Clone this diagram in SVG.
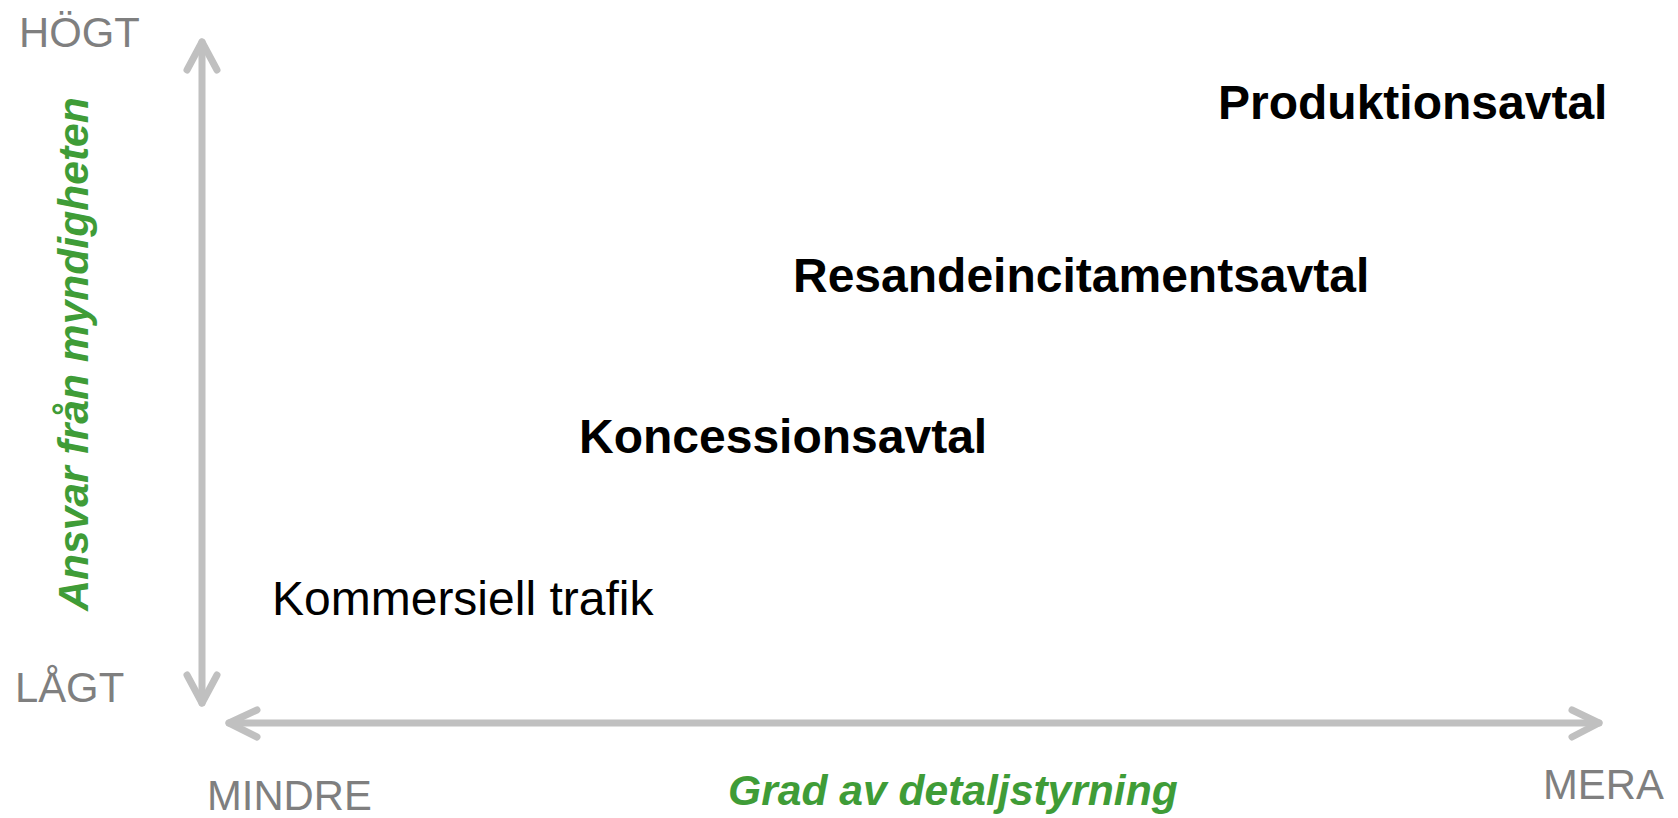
<svg xmlns="http://www.w3.org/2000/svg" width="1678" height="818" viewBox="0 0 1678 818">
  <style>
    .axis { fill: none; stroke: #c0c0c0; stroke-width: 7; stroke-linecap: round; stroke-linejoin: round; }
    .end { font-family: "Liberation Sans", Arial, sans-serif; font-size: 41.8px; fill: #7f7f7f; }
    .title { font-family: "Liberation Sans", Arial, sans-serif; font-size: 42.6px; font-weight: bold; font-style: italic; fill: #3f9c37; }
    .item { font-family: "Liberation Sans", Arial, sans-serif; font-size: 48px; fill: #000000; }
    .bold { font-weight: bold; }
  </style>
  <rect width="1678" height="818" fill="#ffffff"/>
  <g id="connectors">
    <path class="axis" d="M202,42 L202,703"/>
    <path class="axis" d="M187,70 L202,42 L217,70"/>
    <path class="axis" d="M187,675 L202,703 L217,675"/>
    <path class="axis" d="M229,723 L1599,723"/>
    <path class="axis" d="M257,710 L229,723 L257,737"/>
    <path class="axis" d="M1572,710 L1599,723 L1572,737"/>
  </g>
  <g id="axis-labels">
    <text class="end" x="19" y="47">HÖGT</text>
    <text class="end" x="15" y="702">LÅGT</text>
    <text class="end" x="207" y="810">MINDRE</text>
    <text class="end" x="1543" y="799">MERA</text>
    <text class="title" x="728" y="805">Grad av detaljstyrning</text>
    <text class="title" transform="translate(88,354) rotate(-90)" text-anchor="middle" x="0" y="0">Ansvar från myndigheten</text>
  </g>
  <g id="node-produktionsavtal">
    <text class="item bold" x="1218" y="119">Produktionsavtal</text>
  </g>
  <g id="node-resandeincitamentsavtal">
    <text class="item bold" x="793" y="292">Resandeincitamentsavtal</text>
  </g>
  <g id="node-koncessionsavtal">
    <text class="item bold" x="579" y="453">Koncessionsavtal</text>
  </g>
  <g id="node-kommersiell-trafik">
    <text class="item" x="272" y="615">Kommersiell trafik</text>
  </g>
</svg>
